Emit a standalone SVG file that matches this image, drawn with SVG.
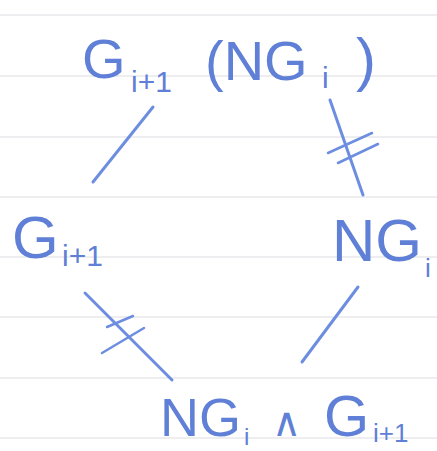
<svg xmlns="http://www.w3.org/2000/svg" width="437" height="451" viewBox="0 0 437 451">
<style>
.rule{stroke:#e9e9ec;stroke-width:1.5}
.lbl{font-family:"Liberation Sans","DejaVu Sans",sans-serif;fill:#5f80d6}
.edge{stroke:#6d8ee0;stroke-width:3;stroke-linecap:round;fill:none}
.hash{stroke:#6d8ee0;stroke-width:2.5;stroke-linecap:round;fill:none}
</style>
<rect width="437" height="451" fill="#ffffff"/>
<g id="paper">
<line class="rule" x1="0" y1="15" x2="437" y2="15"/>
<line class="rule" x1="0" y1="76" x2="437" y2="76"/>
<line class="rule" x1="0" y1="137" x2="437" y2="137"/>
<line class="rule" x1="0" y1="197" x2="437" y2="197"/>
<line class="rule" x1="0" y1="257" x2="437" y2="257"/>
<line class="rule" x1="0" y1="317" x2="437" y2="317"/>
<line class="rule" x1="0" y1="378" x2="437" y2="378"/>
<line class="rule" x1="0" y1="438" x2="437" y2="438"/>
</g>
<g id="connectors">
<line class="edge" x1="153" y1="107" x2="93" y2="182"/>
<line class="edge" x1="330" y1="100" x2="363" y2="195"/>
<line class="hash" x1="328" y1="153" x2="372" y2="133"/>
<line class="hash" x1="338" y1="163" x2="378" y2="144"/>
<line class="edge" x1="85" y1="293" x2="172" y2="380"/>
<line class="hash" x1="107" y1="327" x2="133" y2="316"/>
<line class="hash" x1="102" y1="353" x2="144" y2="328"/>
<line class="edge" x1="358" y1="287" x2="302" y2="362"/>
</g>
<g id="node-top">
<text class="lbl" font-size="56" y="78"><tspan x="82">G</tspan><tspan x="131" y="92" font-size="30">i+1</tspan><tspan x="205" y="80">(NG</tspan><tspan x="322" y="88" font-size="30">i</tspan><tspan x="356" y="80" font-size="60">)</tspan></text>
</g>
<g id="node-left">
<text class="lbl" font-size="60" y="258"><tspan x="12">G</tspan><tspan x="62" y="266" font-size="30">i+1</tspan></text>
</g>
<g id="node-right">
<text class="lbl" font-size="60" y="261"><tspan x="332">NG</tspan><tspan x="425" y="277" font-size="26">i</tspan></text>
</g>
<g id="node-bottom">
<text class="lbl" font-size="54" y="436"><tspan x="160">NG</tspan><tspan x="244" y="445" font-size="24">i</tspan><tspan x="272" y="436" font-size="40">∧</tspan><tspan x="324" y="436" font-size="58">G</tspan><tspan x="373" y="442" font-size="26">i+1</tspan></text>
</g>
</svg>
